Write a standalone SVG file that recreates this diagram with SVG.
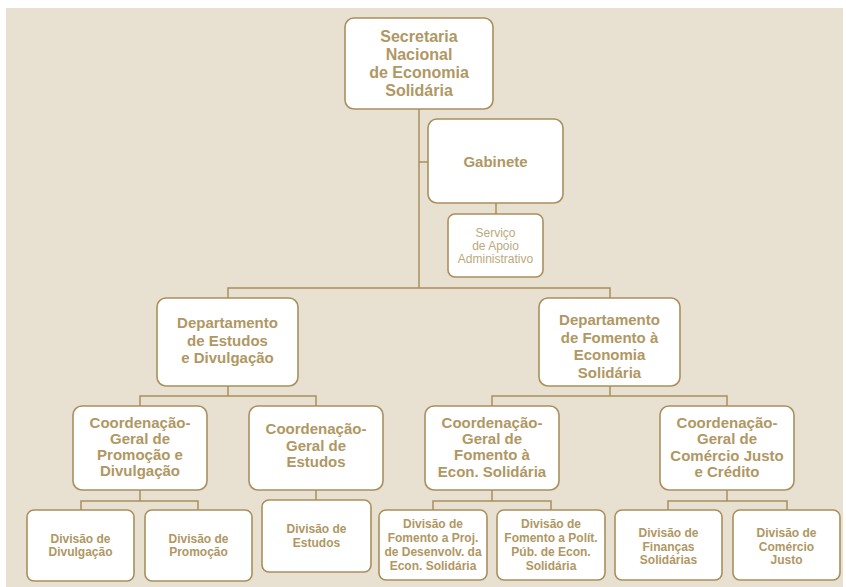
<svg xmlns="http://www.w3.org/2000/svg" width="846" height="587" viewBox="0 0 846 587">
<style>
.box{fill:#fff;stroke:#A98F5C;stroke-width:1.6}
.ln{stroke:#A98F5C;stroke-width:1.5;fill:none}
text{font-family:"Liberation Sans",Arial,sans-serif;text-anchor:middle;fill:#B09763;font-weight:bold}
.t16{font-size:16px}
.t15{font-size:15px}
.t12{font-size:12px}
.svc{font-size:12px;font-weight:normal;fill:#BCA97C}
</style>
<rect x="0" y="0" width="846" height="587" fill="#ffffff"/>
<rect x="6" y="8" width="837" height="579" fill="#E8E1D2"/>
<g id="connectors">
<path class="ln" d="M419 109V288M419 162H428M496 203V214"/>
<path class="ln" d="M228 298V288H610V298"/>
<path class="ln" d="M228 386V396M140 406V396H316V406"/>
<path class="ln" d="M610 386V396M492 406V396H727V406"/>
<path class="ln" d="M140 490V501M81 510V501H198V510"/>
<path class="ln" d="M316 490V500"/>
<path class="ln" d="M492 490V501M433 510V501H551V510"/>
<path class="ln" d="M727 490V501M668 510V501H787V510"/>
</g>
<g id="secretaria">
<rect class="box" x="345" y="18" width="148" height="91" rx="9"/>
<text class="t16" x="419" y="42">Secretaria</text>
<text class="t16" x="419" y="60">Nacional</text>
<text class="t16" x="419" y="78">de Economia</text>
<text class="t16" x="419" y="96">Solidária</text>
</g>
<g id="gabinete">
<rect class="box" x="428" y="119" width="135" height="84" rx="9"/>
<text class="t15" x="495.5" y="167">Gabinete</text>
</g>
<g id="servico">
<rect class="box" x="448" y="214" width="95" height="63" rx="7"/>
<text class="svc" x="495.5" y="237">Serviço</text>
<text class="svc" x="495.5" y="250">de Apoio</text>
<text class="svc" x="495.5" y="263">Administrativo</text>
</g>
<g id="dep-estudos">
<rect class="box" x="157" y="298" width="141" height="88" rx="9"/>
<text class="t15" x="227.5" y="328">Departamento</text>
<text class="t15" x="227.5" y="346">de Estudos</text>
<text class="t15" x="227.5" y="363">e Divulgação</text>
</g>
<g id="dep-fomento">
<rect class="box" x="539" y="298" width="141" height="88" rx="9"/>
<text class="t15" x="609.5" y="325">Departamento</text>
<text class="t15" x="609.5" y="343">de Fomento à</text>
<text class="t15" x="609.5" y="360">Economia</text>
<text class="t15" x="609.5" y="378">Solidária</text>
</g>
<g id="cg-promocao">
<rect class="box" x="73" y="406" width="134" height="84" rx="9"/>
<text class="t15" x="140" y="428">Coordenação-</text>
<text class="t15" x="140" y="444">Geral de</text>
<text class="t15" x="140" y="460">Promoção e</text>
<text class="t15" x="140" y="476">Divulgação</text>
</g>
<g id="cg-estudos">
<rect class="box" x="249" y="406" width="134" height="84" rx="9"/>
<text class="t15" x="316" y="434">Coordenação-</text>
<text class="t15" x="316" y="451">Geral de</text>
<text class="t15" x="316" y="467">Estudos</text>
</g>
<g id="cg-fomento">
<rect class="box" x="425" y="406" width="134" height="84" rx="9"/>
<text class="t15" x="492" y="428">Coordenação-</text>
<text class="t15" x="492" y="444">Geral de</text>
<text class="t15" x="492" y="460">Fomento à</text>
<text class="t15" x="492" y="477">Econ. Solidária</text>
</g>
<g id="cg-comercio">
<rect class="box" x="660" y="406" width="134" height="84" rx="9"/>
<text class="t15" x="727" y="428">Coordenação-</text>
<text class="t15" x="727" y="444">Geral de</text>
<text class="t15" x="727" y="461">Comércio Justo</text>
<text class="t15" x="727" y="477">e Crédito</text>
</g>
<g id="div-divulgacao">
<rect class="box" x="27" y="510" width="107" height="71" rx="7"/>
<text class="t12" x="80.5" y="543">Divisão de</text>
<text class="t12" x="80.5" y="556">Divulgação</text>
</g>
<g id="div-promocao">
<rect class="box" x="145" y="510" width="107" height="71" rx="7"/>
<text class="t12" x="198.5" y="543">Divisão de</text>
<text class="t12" x="198.5" y="556">Promoção</text>
</g>
<g id="div-estudos">
<rect class="box" x="262" y="500" width="109" height="72" rx="7"/>
<text class="t12" x="316.5" y="533">Divisão de</text>
<text class="t12" x="316.5" y="547">Estudos</text>
</g>
<g id="div-proj">
<rect class="box" x="379" y="510" width="108" height="70" rx="7"/>
<text class="t12" x="433" y="528">Divisão de</text>
<text class="t12" x="433" y="542">Fomento a Proj.</text>
<text class="t12" x="433" y="556">de Desenvolv. da</text>
<text class="t12" x="433" y="570">Econ. Solidária</text>
</g>
<g id="div-polit">
<rect class="box" x="497" y="510" width="108" height="70" rx="7"/>
<text class="t12" x="551" y="528">Divisão de</text>
<text class="t12" x="551" y="542">Fomento a Polít.</text>
<text class="t12" x="551" y="556">Púb. de Econ.</text>
<text class="t12" x="551" y="570">Solidária</text>
</g>
<g id="div-financas">
<rect class="box" x="615" y="510" width="107" height="70" rx="7"/>
<text class="t12" x="668.5" y="537">Divisão de</text>
<text class="t12" x="668.5" y="551">Finanças</text>
<text class="t12" x="668.5" y="564">Solidárias</text>
</g>
<g id="div-comercio">
<rect class="box" x="733" y="510" width="107" height="70" rx="7"/>
<text class="t12" x="786.5" y="537">Divisão de</text>
<text class="t12" x="786.5" y="551">Comércio</text>
<text class="t12" x="786.5" y="564">Justo</text>
</g>
</svg>
